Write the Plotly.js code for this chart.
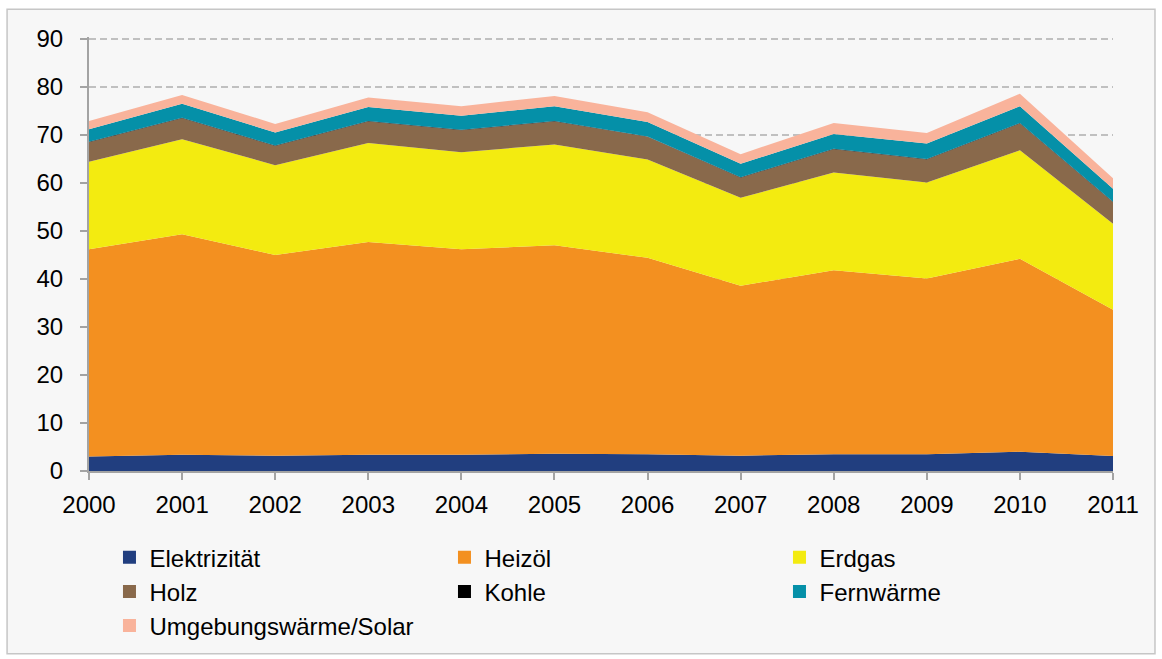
<!DOCTYPE html>
<html>
<head>
<meta charset="utf-8">
<script src="https://cdn.plot.ly/plotly-3.0.1.min.js"></script>
<style>
html,body{margin:0;padding:0;background:#fff;}
#chart{width:1162px;height:659px;}
</style>
</head>
<body>
<div id="chart"></div>
<script>
var years = [2000,2001,2002,2003,2004,2005,2006,2007,2008,2009,2010,2011];
var elektrizitaet = [3.0,3.4,3.2,3.4,3.4,3.6,3.5,3.2,3.5,3.5,4.0,3.1];
var heizoel       = [43.2,45.9,41.8,44.3,42.8,43.4,40.9,35.4,38.3,36.6,40.2,30.5];
var erdgas        = [18.2,19.8,18.7,20.6,20.2,21.0,20.5,18.3,20.4,20.0,22.6,17.9];
var holz          = [4.1,4.4,4.0,4.5,4.6,4.8,4.7,4.2,4.8,4.8,5.6,4.5];
var kohle         = [0.1,0.1,0.1,0.1,0.1,0.1,0.1,0.1,0.1,0.1,0.1,0.1];
var fernwaerme    = [2.6,2.9,2.7,2.9,2.9,3.1,3.0,2.8,3.1,3.2,3.5,2.7];
var umgebung      = [1.7,1.8,1.8,2.0,2.0,2.1,2.0,2.0,2.3,2.2,2.6,2.2];

var seriesNames = ["Elektrizität","Heizöl","Erdgas","Holz","Kohle","Fernwärme","Umgebungswärme/Solar"];
var seriesData = [elektrizitaet,heizoel,erdgas,holz,kohle,fernwaerme,umgebung];
var colors = ["#213e7f","#f39020","#f3eb10","#89694b","#000000","#0590a8","#f9b39b"];

var traces = [];
for (var i=0;i<seriesNames.length;i++){
  traces.push({
    x: years, y: seriesData[i], name: seriesNames[i],
    type: 'scatter', mode: 'lines', stackgroup: 'one',
    line: {width: 0, color: colors[i]}, fillcolor: colors[i],
    showlegend: false, hoverinfo: 'x+y+name'
  });
}
for (var j=0;j<seriesNames.length;j++){
  traces.push({
    x: [null], y: [null], name: seriesNames[j], type: 'scatter', mode: 'markers',
    marker: {symbol: 'square', size: 13, color: colors[j]}, showlegend: true
  });
}

var layout = {
  width: 1162, height: 659,
  margin: {l: 89, r: 49, t: 37, b: 187},
  paper_bgcolor: '#ffffff',
  plot_bgcolor: 'rgba(0,0,0,0)',
  font: {family: 'Liberation Sans, Arial, sans-serif', size: 24, color: '#000'},
  showlegend: true,
  xaxis: {
    range: [2000, 2011], tickmode: 'linear', tick0: 2000, dtick: 1,
    showgrid: false, zeroline: false, showline: true, linecolor: '#a3a3a3', linewidth: 2,
    ticks: 'outside', ticklen: 7, tickcolor: '#a3a3a3', tickwidth: 2,
    tickfont: {size: 24}, ticklabelstandoff: 4
  },
  yaxis: {
    range: [0, 90.4], tickmode: 'linear', tick0: 0, dtick: 10,
    showgrid: true, gridcolor: '#c0c0c0', griddash: '7px,4px', gridwidth: 1.5,
    zeroline: false, showline: true, linecolor: '#a3a3a3', linewidth: 2,
    ticks: 'outside', ticklen: 7, tickcolor: '#a3a3a3', tickwidth: 2,
    tickfont: {size: 24}, ticklabelstandoff: 12
  },
  legend: {
    orientation: 'h', x: 0.02, xanchor: 'left', y: -0.145, yanchor: 'top',
    bgcolor: 'rgba(0,0,0,0)', font: {size: 24}, traceorder: 'normal',
    entrywidth: 290, entrywidthmode: 'pixels', tracegroupgap: 0, itemwidth: 30
  },
  shapes: [{
    type: 'rect', xref: 'paper', yref: 'paper', layer: 'below',
    x0: -0.080, x1: 1.041, y0: -0.421, y1: 1.064,
    fillcolor: '#f7f7f7', line: {color: '#c6c6c6', width: 1.5}
  }]
};

Plotly.newPlot('chart', traces, layout, {displayModeBar: false, staticPlot: true});
</script>
</body>
</html>
